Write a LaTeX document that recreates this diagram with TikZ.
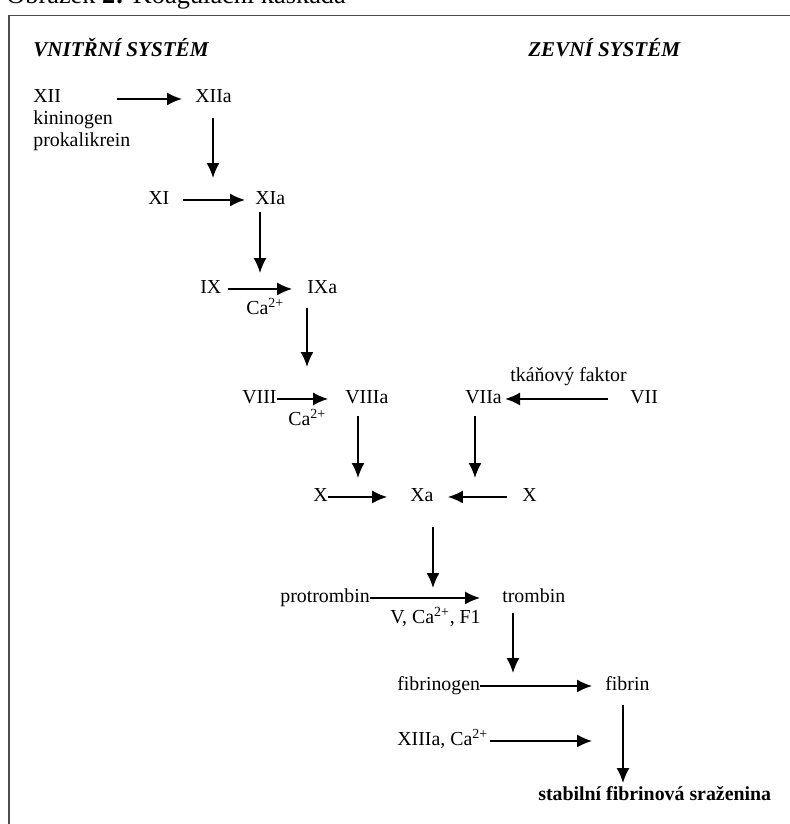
\documentclass[tikz,border=0pt]{standalone}
\usepackage{fontspec}
\setmainfont{Liberation Serif}
\usetikzlibrary{arrows.meta}

\begin{document}
\begin{tikzpicture}[x=0.02cm, y=-0.02cm, every node/.style={inner sep=0pt, anchor=base west, font=\fontsize{11.3}{13}\selectfont}, header/.style={font=\fontsize{12}{14}\selectfont\bfseries\itshape}, react/.style={-{Latex[length=8.5pt,width=7.4pt]}, line width=1pt}]
    \clip (0,0) rectangle (790,824);
    \useasboundingbox (0,0) rectangle (790,824);

    \node[font=\fontsize{15}{18}\selectfont] (caption) at (6,4) {Obrázek \textbf{2:} Koagulační kaskáda};
    \draw[line width=1.1pt, black!70] (9,900) -- (9,15.5) -- (900,15.5);

    \node[header] (intrinsic) at (33,57) {VNITŘNÍ SYSTÉM};
    \node[header] (extrinsic) at (528,57) {ZEVNÍ SYSTÉM};

    % intrinsic pathway
    \node (xii) at (33,103) {XII};
    \node (kin) at (33,125) {kininogen};
    \node (prok) at (33,147) {prokalikrein};
    \node (xiia) at (195,103) {XIIa};
    \node (xi) at (148,204) {XI};
    \node (xia) at (255,204) {XIa};
    \node (ix) at (200,293) {IX};
    \node (ixa) at (307,293) {IXa};
    \node (ca1) at (246,314) {Ca\textsuperscript{2+}};
    \node (viii) at (242,403) {VIII};
    \node (viiia) at (345,403) {VIIIa};
    \node (ca2) at (288,425) {Ca\textsuperscript{2+}};

    % extrinsic pathway
    \node (tf) at (510,381) {tkáňový faktor};
    \node (viia) at (465,403) {VIIa};
    \node (vii) at (630,403) {VII};

    % common pathway
    \node (xl) at (313,501) {X};
    \node (xa) at (410,501) {Xa};
    \node (xr) at (522,501) {X};
    \node (prot) at (280,602) {protrombin};
    \node (tromb) at (502,602) {trombin};
    \node (vcaf) at (390,623) {V, Ca\textsuperscript{2+}, F1};
    \node (fgen) at (397,690) {fibrinogen};
    \node (fibrin) at (605,690) {fibrin};
    \node (xiii) at (397,745) {XIIIa, Ca\textsuperscript{2+}};
    \node[font=\fontsize{11.3}{13}\selectfont\bfseries] (clot) at (538,800) {stabilní fibrinová sraženina};

    % arrow tips pointing at reactions
    \coordinate (t1) at (213,178);
    \coordinate (t2) at (260,273);
    \coordinate (t3) at (307,367);
    \coordinate (t4) at (358,478);
    \coordinate (t5) at (475,478);
    \coordinate (t6) at (433,588);
    \coordinate (t7) at (513,673);
    \coordinate (t8) at (623,783);
    \coordinate (t9) at (592,743);

    \draw[react, shorten <=32pt, shorten >=7.4pt] (xii.mid east) -- (xiia.mid west);
    \draw[react, shorten <=7.4pt, shorten >=5.7pt] (xi.mid east) -- (xia.mid west);
    \draw[react, shorten <=3.4pt, shorten >=8.5pt] (ix.mid east) -- (ixa.mid west);
    \draw[react, shorten >=9.6pt] (viii.mid east) -- (viiia.mid west);
    \draw[react, shorten <=12.5pt, shorten >=1.7pt] (vii.mid west) -- (viia.mid east);
    \draw[react, shorten >=13pt] (xl.mid east) -- (xa.mid west);
    \draw[react, shorten <=8.5pt, shorten >=8pt] (xr.mid west) -- (xa.mid east);
    \draw[react, shorten >=12.5pt] (prot.mid east) -- (tromb.mid west);
    \draw[react, shorten >=7.4pt] (fgen.mid east) -- (fibrin.mid west);
    \draw[react, shorten <=1pt] (xiii.mid east) -- (xiii.mid east -| t9);

    \draw[react, shorten <=8pt] (xiia.south -| t1) -- (t1);
    \draw[react, shorten <=4.5pt] (xia.south -| t2) -- (t2);
    \draw[react, shorten <=8pt] (ixa.south -| t3) -- (t3);
    \draw[react, shorten <=6.8pt] (viiia.south -| t4) -- (t4);
    \draw[react, shorten <=6.8pt] (viia.south -| t5) -- (t5);
    \draw[react, shorten <=14.7pt] (xa.south -| t6) -- (t6);
    \draw[react, shorten <=5.7pt] (tromb.south -| t7) -- (t7);
    \draw[react, shorten <=8.5pt] (fibrin.south -| t8) -- (t8);
\end{tikzpicture}
\end{document}
